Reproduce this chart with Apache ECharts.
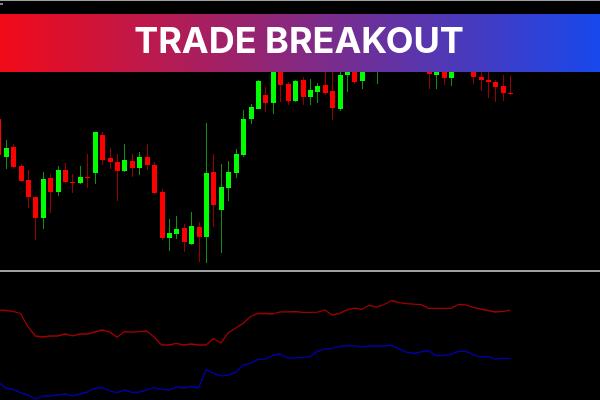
<!DOCTYPE html>
<html>
<head>
<meta charset="utf-8">
<script src="https://cdn.jsdelivr.net/npm/echarts@6/dist/echarts.min.js"></script>
<style>
html,body{margin:0;padding:0;background:#000;}
#c{width:600px;height:400px;}
</style>
</head>
<body>
<div id="c"></div>
<script>
// ---- data (arbitrary price units), one entry per bar ----
const opens  = [181,143.3,153,134,120,103,82.3,122,108.3,130,118.3,117,123.3,127.3,165,142.3,138,129,139,131.7,143,135,108,62.3,66,72,56,73,63,128,90,111.7,127,145,180.7,191.3,205.3,197.3,230,216,199,220,203.3,208.3,214.7,208.7,191,225,240,219.3,235,232,250,240,250,248,236,245,234,225,235,221.7,232,240,235,222.7,220,217.7,214.3,207];
const closes = [145,152.3,133.3,118.7,103,81.7,121,108.3,130,118,117.3,123,122.3,168,140,138,129,139.7,132,143,135,107,62.3,66.7,71.3,58.3,74,62.7,127.3,95.3,112.7,128,145.7,181,193,219,197.3,232,214.7,199,219,202.7,209.7,214.3,207,192.3,225,240,218.3,240,245,245,238,252,240,238,248,234,226,232,222.3,234,240,232,223.3,220,218.3,213.3,206.7,206];
const lows   = [142,131,132.3,117.7,92.3,60,70.7,87,104.3,117.3,106.7,115.7,111.7,115.7,135,131,98.7,127.7,122.7,124.7,130,106,60,49.3,60.7,47.7,55,38.3,37.3,72.7,46.7,99.3,122.3,143.3,176,191,188,186,198,195.3,198,195.3,195,196.7,205,180,189,208,216,211,230,215.7,230,232,230,230,230,229,211,211,215,214.3,229,229,216,209.3,202.3,197.7,199.3,205.3];
const highs  = [185,160,155.7,136,129.7,103,128.3,126,133.7,137.3,126,134.3,145.7,168,168,152.3,145.7,156,145.7,148.3,156,138.3,111,81,84.3,76,88.3,77.7,176.7,145.7,136.3,139,151,190,195.7,220,213.3,240,238,218.3,220,223.3,221,217.3,240,238,235,245,245,248,250,252,255,258,255,254,254,250,240,238,240,240,245,245,242,240,240,220,225,224];
const redLine  = [90,89.5,88.7,86.5,73.3,64,63,64,64,66,64.2,66,66,68,70,68.1,62.8,68.5,67.8,68.4,69,63,55,55,56.6,55,56,55,55,61.5,57,67.3,72,76.6,83.5,86.7,86.5,86,88.2,88.2,88.5,87.7,87.7,87.8,90,85,86.6,90.2,91.9,90.7,94.7,92.8,95.5,99.5,97.4,96.4,95.8,95.3,91.7,91.7,91.7,91.7,95.5,95.1,92.7,91,89.5,88,88.6,89.7];
const blueLine = [18,12,10.7,7.3,4.8,1,4,4,5,6,4.2,6,8,11.7,12.5,9.2,7.4,9.8,7.7,8,10,12.4,10.7,10,13.2,12,13.5,12,30.5,26.6,24.2,24.8,27.8,35,36.6,40.6,40.8,44.5,46,42,42.1,42.6,43.3,48.6,51.1,51.7,53.6,54.4,54.2,53.1,54,54,54,54.7,51.2,47.8,46.5,48.2,49.5,44.3,44.3,45.6,48.7,48.7,45.4,43,43.3,41,41.7,41.7];
const title = 'TRADE BREAKOUT';

// ---- build ----
const candleData = opens.map((o, i) => [i, o, closes[i], lows[i], highs[i]]);
const redData = redLine.map((v, i) => [i, v]);
const blueData = blueLine.map((v, i) => [i, v]);

const chart = echarts.init(document.getElementById('c'), null, {renderer: 'canvas'});
// bar index axis: first (partial) bar sits just left of the edge, chart shift on the right
const X_MIN = 0.232, X_MAX = 81.09;

function renderCandle(params, api) {
  const i = api.value(0), o = api.value(1), c = api.value(2), l = api.value(3), h = api.value(4);
  const pO = api.coord([i, o]), pC = api.coord([i, c]);
  const pL = api.coord([i, l]), pH = api.coord([i, h]);
  const bull = c > o;
  const cx = Math.round(pO[0]);
  const top = Math.round(Math.min(pO[1], pC[1]));
  const bot = Math.round(Math.max(pO[1], pC[1]));
  return {
    type: 'group',
    children: [
      {type: 'rect', shape: {x: cx, y: Math.round(pH[1]), width: 1, height: Math.max(1, Math.round(pL[1]) - Math.round(pH[1]))},
       style: {fill: bull ? '#129012' : '#980000'}},
      {type: 'rect', shape: {x: cx - 2, y: top, width: 5, height: Math.max(1, bot - top)},
       style: {fill: bull ? '#00ff00' : '#ff0000'}}
    ]
  };
}

chart.setOption({
  backgroundColor: '#000000',
  animation: false,
  grid: [
    {left: 0, top: 0, width: 600, height: 270},
    {left: 0, top: 272, width: 600, height: 128}
  ],
  xAxis: [
    {type: 'value', gridIndex: 0, min: X_MIN, max: X_MAX, show: false},
    {type: 'value', gridIndex: 1, min: X_MIN, max: X_MAX, show: false}
  ],
  yAxis: [
    {type: 'value', gridIndex: 0, min: 30, max: 300, show: false},
    {type: 'value', gridIndex: 1, min: 0, max: 128, show: false}
  ],
  series: [
    {type: 'custom', xAxisIndex: 0, yAxisIndex: 0, data: candleData, renderItem: renderCandle, clip: true},
    {type: 'line', xAxisIndex: 1, yAxisIndex: 1, data: redData, symbol: 'none', lineStyle: {color: '#a00000', width: 1.3}, clip: true},
    {type: 'line', xAxisIndex: 1, yAxisIndex: 1, data: blueData, symbol: 'none', lineStyle: {color: '#0000b0', width: 1.3}, clip: true}
  ],
  graphic: [
    {type: 'rect', z: 100, shape: {x: 0, y: 0, width: 600, height: 1}, style: {fill: '#a0a0a0'}},
    {type: 'rect', z: 100, shape: {x: 0, y: 3, width: 3, height: 2}, style: {fill: '#808080'}},
    {type: 'rect', z: 100, shape: {x: 0, y: 270, width: 600, height: 2}, style: {fill: '#a0a0a0'}},
    {type: 'rect', z: 100, shape: {x: 0, y: 14, width: 600, height: 58},
     style: {fill: new echarts.graphic.LinearGradient(0, 0, 1, 0, [
       {offset: 0, color: '#f20a18'}, {offset: 1, color: '#1848ec'}
     ])}},
    {type: 'text', z: 101, x: 299, y: 42,
     style: {text: title, fill: '#ffffff', font: 'bold 36px Inter', align: 'center', verticalAlign: 'middle'}}
  ]
});
</script>
</body>
</html>
